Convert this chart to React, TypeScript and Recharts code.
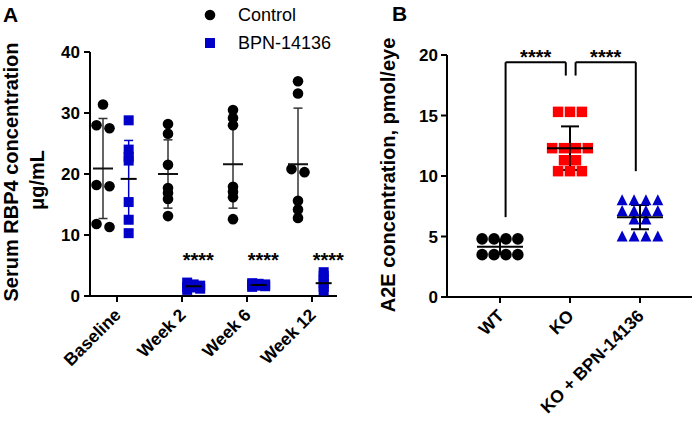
import React from "react";
import {
  ScatterChart,
  Scatter,
  XAxis,
  YAxis,
  ErrorBar,
  ReferenceLine,
  ReferenceDot,
  Legend,
} from "recharts";

const FONT = '"Liberation Sans", Arial, Helvetica, sans-serif';
const BLUE = "#0000c8";
const RED = "#ff0000";

// ---- Panel A: serum RBP4, µg/mL ----
const timepoints = ["Baseline", "Week 2", "Week 6", "Week 12"];
const seriesA = ["Control", "BPN-14136"];
const controlRbp4 = [
  [31.4, 27.5, 28.0, 18.2, 18.0, 11.3, 11.8],
  [28.2, 26.6, 21.5, 17.7, 16.9, 15.9, 13.1],
  [30.5, 29.2, 28.0, 17.9, 17.1, 16.2, 12.6],
  [35.2, 33.2, 20.8, 20.3, 15.6, 14.2, 12.8],
];
const bpnRbp4 = [
  [28.8, 24.0, 22.8, 22.2, 15.4, 12.5, 10.3],
  [2.2, 1.9, 1.7, 1.5, 1.4, 1.2, 1.0],
  [2.1, 2.0, 1.9, 1.8, 1.7, 1.6, 1.5],
  [3.9, 3.3, 2.7, 2.1, 1.5, 0.9],
];
const controlMean = [20.9, 20.0, 21.6, 21.6];
const controlSd = [8.2, 5.6, 7.2, 9.2];
const bpnMean = [19.2, 1.6, 1.8, 2.1];
const bpnSd = [6.3, 0.4, 0.2, 1.2];
const rbp4Ticks = [0, 10, 20, 30, 40];
const starredWeeks = [1, 2, 3];
const starLevelA = 6.6;

// ---- Panel B: A2E, pmol/eye ----
const genotypes = ["WT", "KO", "KO + BPN-14136"];
const a2eValues = [
  [4.8, 4.8, 4.8, 4.8, 3.5, 3.5, 3.5, 3.5],
  [15.3, 15.3, 15.3, 12.3, 12.3, 12.3, 12.3, 11.3, 11.3, 10.4, 10.4, 10.4],
  [8.0, 8.0, 8.0, 8.0, 7.1, 7.1, 7.1, 7.1, 6.4, 6.4, 5.0, 5.0, 5.0, 5.0],
];
const a2eMean = [4.15, 12.3, 6.6];
const a2eSd = [0.6, 1.8, 1.0];
const a2eTicks = [0, 5, 10, 15, 20];
const compFrom = [0, 1];
const compTo = [1, 2];
const legEndFrom = [6.6, 18.3];
const legEndTo = [18.3, 10.4];
const bracketTop = 19.4;
const starLevelB = 20.2;

// layout (px per data unit)
const A_PX_X = 65;
const A_PX_Y = 6.1;
const B_PX_X = 70;
const B_PX_Y = 12.1;
const CONTROL_SHIFT = -0.215;
const BPN_SHIFT = 0.18;

// groups close values and spreads them sideways, like a scatter dot plot
function swarm(
  values: number[],
  center: number,
  pxX: number,
  pxY: number,
  gapPx: number,
  place: (n: number) => number[]
) {
  const sorted = [...values].sort((a, b) => b - a);
  const clusters: number[][] = [];
  sorted.forEach((v) => {
    const last = clusters[clusters.length - 1];
    if (last && (last[last.length - 1] - v) * pxY < gapPx) last.push(v);
    else clusters.push([v]);
  });
  return clusters.flatMap((c) => {
    const offs = place(c.length);
    return c.map((v, k) => ({ x: center + offs[k] / pxX, y: v }));
  });
}
const placeA = (n: number) =>
  n === 1 ? [0] : n === 2 ? [-6.5, 6.5] : Array.from({ length: n }, (_, k) => [-6.5, 0, 6.5][k % 3]);
const placeB = (n: number) => Array.from({ length: n }, (_, k) => (k - (n - 1) / 2) * 11.9);

const controlPts = controlRbp4.flatMap((vals, i) =>
  swarm(vals, i + CONTROL_SHIFT, A_PX_X, A_PX_Y, 3.5, placeA)
);
const bpnPts = bpnRbp4.flatMap((vals, i) => swarm(vals, i + BPN_SHIFT, A_PX_X, A_PX_Y, 3.5, placeA));
const controlSummary = controlMean.map((m, i) => ({ x: i + CONTROL_SHIFT, y: m, sd: controlSd[i] }));
const bpnSummary = bpnMean.map((m, i) => ({ x: i + BPN_SHIFT, y: m, sd: bpnSd[i] }));

const a2ePts = a2eValues.map((vals, i) => swarm(vals, i, B_PX_X, B_PX_Y, 1, placeB));
const a2eSummary = a2eMean.map((m, i) => ({ x: i, y: m, sd: a2eSd[i] }));

// shapes
const Dot = (r: number, fill: string) => (p: any) => <circle cx={p.cx} cy={p.cy} r={r} fill={fill} />;
const Square = (s: number, fill: string) => (p: any) => (
  <rect x={p.cx - s / 2} y={p.cy - s / 2} width={s} height={s} fill={fill} />
);
const Triangle = (s: number, fill: string) => (p: any) => (
  <polygon
    points={`${p.cx},${p.cy - s * 0.55} ${p.cx - s / 2},${p.cy + s * 0.45} ${p.cx + s / 2},${p.cy + s * 0.45}`}
    fill={fill}
  />
);
const MeanLine = (w: number, stroke: string) => (p: any) => (
  <line x1={p.cx - w / 2} x2={p.cx + w / 2} y1={p.cy} y2={p.cy} stroke={stroke} strokeWidth={2} />
);
const Stars = (p: any) => (
  <text x={p.cx} y={p.cy + 11.5} textAnchor="middle" fontFamily={FONT} fontSize={20} fontWeight={700} fill="#000">
    ****
  </text>
);

function SlantTick(props: any) {
  const { x, y, payload, labels } = props;
  return (
    <text
      transform={`translate(${x + 5},${y + 12}) rotate(-45)`}
      textAnchor="end"
      fontFamily={FONT}
      fontSize={17.5}
      fontWeight={700}
      fill="#000"
    >
      {labels[payload.value]}
    </text>
  );
}

const axisStroke = { stroke: "#000", strokeWidth: 2 };
const yTick = { fill: "#000", fontSize: 17, fontWeight: 700, fontFamily: FONT };

function renderLegend(props: any) {
  const items = (props.payload || [])
    .filter((e: any) => seriesA.includes(e.value))
    .sort((a: any, b: any) => seriesA.indexOf(a.value) - seriesA.indexOf(b.value));
  return (
    <div style={{ fontFamily: FONT, fontSize: 18, color: "#000" }}>
      {items.map((e: any) => (
        <div key={e.value} style={{ display: "flex", alignItems: "center", height: 28 }}>
          <svg width={35} height={14}>
            {e.type === "circle" ? (
              <circle cx={7} cy={7} r={5.3} fill={e.color} />
            ) : (
              <rect x={2} y={2} width={10} height={10} fill={e.color} />
            )}
          </svg>
          <span>{e.value}</span>
        </div>
      ))}
    </div>
  );
}

function PanelA() {
  return (
    <ScatterChart width={350} height={422} margin={{ top: 52, right: 13, bottom: 66, left: 40 }}>
      <XAxis
        type="number"
        dataKey="x"
        domain={[-0.415, 3.385]}
        ticks={[0, 1, 2, 3]}
        interval={0}
        height={60}
        axisLine={axisStroke}
        tickLine={axisStroke}
        tickSize={6}
        tick={(p: any) => <SlantTick {...p} labels={timepoints} />}
      />
      <YAxis
        type="number"
        dataKey="y"
        domain={[0, 40]}
        ticks={rbp4Ticks}
        interval={0}
        width={50}
        axisLine={axisStroke}
        tickLine={axisStroke}
        tickSize={6}
        tickMargin={4}
        tick={yTick}
      />
      <Legend
        layout="vertical"
        align="center"
        verticalAlign="middle"
        content={renderLegend}
        wrapperStyle={{ left: 203, top: 1, width: 150 }}
      />
      <Scatter name={seriesA[0]} data={controlPts} fill="#000" legendType="circle" shape={Dot(5.3, "#000")} isAnimationActive={false} />
      <Scatter name={seriesA[1]} data={bpnPts} fill={BLUE} legendType="square" shape={Square(10, BLUE)} isAnimationActive={false} />
      <Scatter data={controlSummary} legendType="none" shape={MeanLine(20, "#111")} isAnimationActive={false}>
        <ErrorBar dataKey="sd" direction="y" width={4.5} stroke="#333" strokeWidth={1.5} />
      </Scatter>
      <Scatter data={bpnSummary} legendType="none" shape={MeanLine(16, "#000")} isAnimationActive={false}>
        <ErrorBar dataKey="sd" direction="y" width={4.5} stroke={BLUE} strokeWidth={1.5} />
      </Scatter>
      {starredWeeks.map((i) => (
        <ReferenceDot key={i} x={i + BPN_SHIFT + 0.07} y={starLevelA} r={0} ifOverflow="visible" shape={Stars} />
      ))}
    </ScatterChart>
  );
}

function PanelB() {
  const shapes = [Dot(5.8, "#000"), Square(10.5, RED), Triangle(11, BLUE)];
  const fills = ["#000", RED, BLUE];
  return (
    <ScatterChart width={343} height={422} margin={{ top: 55, right: 1, bottom: 65, left: 47 }}>
      <XAxis
        type="number"
        dataKey="x"
        domain={[-0.757, 2.743]}
        ticks={[0, 1, 2]}
        interval={0}
        height={60}
        axisLine={axisStroke}
        tickLine={axisStroke}
        tickSize={6}
        tick={(p: any) => <SlantTick {...p} labels={genotypes} />}
      />
      <YAxis
        type="number"
        dataKey="y"
        domain={[0, 20]}
        ticks={a2eTicks}
        interval={0}
        width={50}
        axisLine={axisStroke}
        tickLine={axisStroke}
        tickSize={6}
        tickMargin={3}
        tick={yTick}
      />
      {a2ePts.map((pts, i) => (
        <Scatter key={genotypes[i]} name={genotypes[i]} data={pts} fill={fills[i]} shape={shapes[i]} isAnimationActive={false} />
      ))}
      <Scatter data={a2eSummary} legendType="none" shape={MeanLine(46, "#000")} isAnimationActive={false}>
        <ErrorBar dataKey="sd" direction="y" width={9} stroke="#000" strokeWidth={2} />
      </Scatter>
      {compFrom.map((a, k) => {
        const x1 = a + 0.08;
        const x2 = compTo[k] - 0.06;
        return (
          <React.Fragment key={k}>
            <ReferenceLine segment={[{ x: x1, y: bracketTop }, { x: x2, y: bracketTop }]} stroke="#000" strokeWidth={2} ifOverflow="visible" />
            <ReferenceLine segment={[{ x: x1, y: bracketTop }, { x: x1, y: legEndFrom[k] }]} stroke="#000" strokeWidth={2} ifOverflow="visible" />
            <ReferenceLine segment={[{ x: x2, y: bracketTop }, { x: x2, y: legEndTo[k] }]} stroke="#000" strokeWidth={2} ifOverflow="visible" />
            <ReferenceDot x={(x1 + x2) / 2} y={starLevelB} r={0} ifOverflow="visible" shape={Stars} />
          </React.Fragment>
        );
      })}
    </ScatterChart>
  );
}

export default function App() {
  const title = { fontFamily: FONT, fontWeight: 700, fill: "#000" } as const;
  return (
    <div style={{ position: "absolute", left: 0, top: 0, width: 693, height: 422, background: "#fff" }}>
      <div style={{ position: "absolute", left: 0, top: 0 }}>
        <PanelA />
      </div>
      <div style={{ position: "absolute", left: 350, top: 0 }}>
        <PanelB />
      </div>
      <svg width={693} height={422} style={{ position: "absolute", left: 0, top: 0, pointerEvents: "none" }}>
        <text x={3} y={22} fontSize={21} {...title}>A</text>
        <text x={392} y={21} fontSize={21} {...title}>B</text>
        <text transform="translate(18,172) rotate(-90)" textAnchor="middle" fontSize={20} {...title}>
          Serum RBP4 concentration
        </text>
        <text transform="translate(44,180) rotate(-90)" textAnchor="middle" fontSize={20} {...title}>
          μg/mL
        </text>
        <text transform="translate(395,175) rotate(-90)" textAnchor="middle" fontSize={20} {...title}>
          A2E concentration, pmol/eye
        </text>
      </svg>
    </div>
  );
}
